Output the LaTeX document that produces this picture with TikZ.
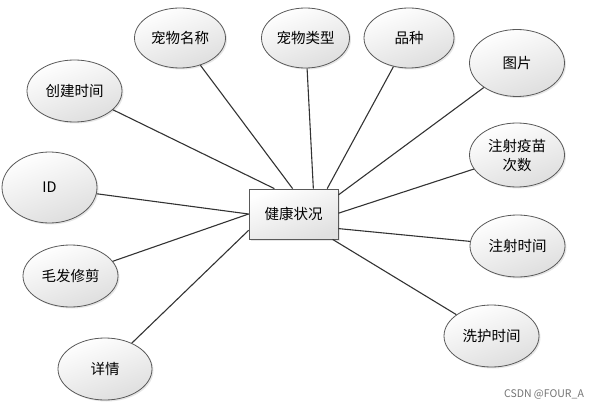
\documentclass[tikz,border=0pt]{standalone}
\usepackage{fontspec}
\setmainfont{Noto Sans CJK SC}
\usetikzlibrary{shapes.geometric,shadows}

\tikzset{
  attr/.style={ellipse, draw=black!65, line width=0.8pt, top color=white, bottom color=black!13,
    shading angle=20, minimum width=94pt, minimum height=62pt, inner sep=0pt, align=center,
    font=\fontsize{14.5}{19}\selectfont,
    drop shadow={shadow xshift=1.5pt, shadow yshift=-1.5pt, opacity=0.2}},
  entity/.style={rectangle, draw=black!65, line width=0.8pt, top color=white, bottom color=black!12,
    shading angle=20, minimum width=89pt, minimum height=50pt, inner sep=0pt,
    font=\fontsize{14.5}{19}\selectfont,
    drop shadow={shadow xshift=1.5pt, shadow yshift=-1.5pt, opacity=0.2}},
  link/.style={black!80, line width=1.1pt}
}

\begin{document}
\begin{tikzpicture}[x=1pt, y=-1pt]
    \useasboundingbox (0,0) rectangle (602,409);

    % Entity
    \node[entity] (health) at (293.5,214) {健康状况};

    % Attributes
    \node[attr, minimum width=91pt, minimum height=60pt] (petname) at (180,38) {宠物名称};
    \node[attr, minimum width=88pt, minimum height=60pt] (pettype) at (305.5,38) {宠物类型};
    \node[attr, minimum width=90pt, minimum height=60pt] (breed) at (409,38) {品种};
    \node[attr, minimum width=95pt, minimum height=67pt] (photo) at (517,63) {图片};
    \node[attr, minimum width=95pt, minimum height=64pt] (vaccnum) at (517,155) {注射疫苗\\次数};
    \node[attr, minimum width=95pt] (created) at (74.5,91) {创建时间};
    \node[attr, minimum width=95pt, minimum height=71pt] (id) at (49.5,187.5) {ID};
    \node[attr, minimum width=95pt] (groom) at (70.5,276) {毛发修剪};
    \node[attr] (detail) at (105,369) {详情};
    \node[attr, minimum width=95pt] (vacctime) at (517.5,246) {注射时间};
    \node[attr, minimum width=95pt] (washtime) at (491.5,336) {洗护时间};

    % Links
    \draw[link] (created) -- (health.127);
    \draw[link] (petname) -- (health.92);
    \draw[link] (pettype) -- (health.52);
    \draw[link] (breed) -- (health.37);
    \draw[link] (photo) -- (health.23);
    \draw[link] (vaccnum) -- (health.1);
    \draw[link] (vacctime) -- (health.-18);
    \draw[link] (washtime) -- (health.-33);
    \draw[link] (id) -- (health.180);
    \draw[link] (groom) -- (health.180);
    \draw[link] (detail) -- (health.200);

    % Watermark
    \node[text=black!55, font=\fontsize{10.5}{12}\selectfont] (mark) at (544,394) {CSDN @FOUR\_A};
\end{tikzpicture}
\end{document}
